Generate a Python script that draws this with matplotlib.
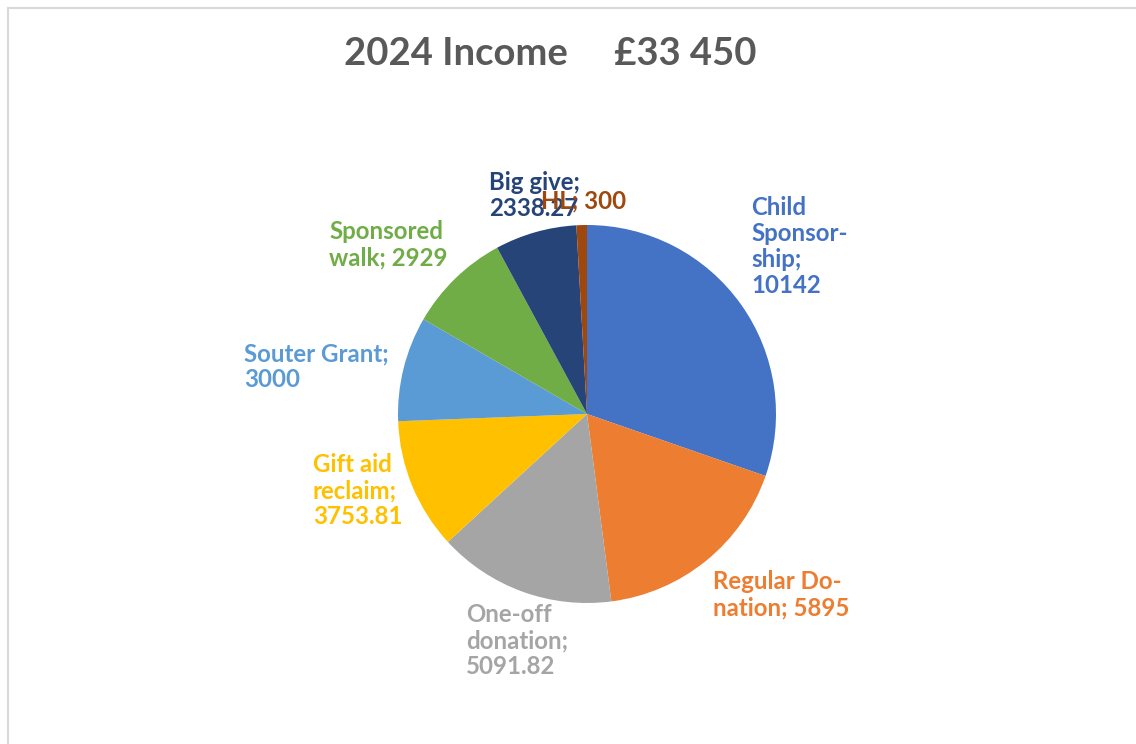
import matplotlib
matplotlib.use("Agg")
import matplotlib.pyplot as plt
from matplotlib.patches import Rectangle

plt.rcParams['font.family'] = ['Lato', 'DejaVu Sans']

categories = ["Child Sponsorship", "Regular Donation", "One-off donation", "Gift aid reclaim",
              "Souter Grant", "Sponsored walk", "Big give", "HL"]
values = [10142, 5895, 5091.82, 3753.81, 3000, 2929, 2338.27, 300]
label_texts = ["Child\nSponsor-\nship;\n10142", "Regular Do-\nnation; 5895",
               "One-off\ndonation;\n5091.82", "Gift aid\nreclaim;\n3753.81",
               "Souter Grant;\n3000", "Sponsored\nwalk; 2929", "Big give;\n2338.27", "HL; 300"]
colors = ["#4472C4", "#ED7D31", "#A5A5A5", "#FFC000", "#5B9BD5", "#70AD47", "#264478", "#9E480E"]
title = "2024 Income     £33 450"

W, H = 1136, 744
fig = plt.figure(figsize=(W / 100, H / 100), dpi=100)
fig.patch.set_facecolor("white")

# chart border (extends beyond right/bottom edge)
fig.add_artist(Rectangle((8 / W, -0.05), 1.2, (H - 8) / H + 0.05, transform=fig.transFigure,
                         fill=False, edgecolor="#D9D9D9", linewidth=1.5))

cx, cy, r = 587, 414, 189
ax = fig.add_axes([(cx - r) / W, (H - cy - r) / H, 2 * r / W, 2 * r / H])
ax.pie(values, colors=colors, startangle=90, counterclock=False, radius=1,
       wedgeprops=dict(linewidth=0))
ax.set_xlim(-1, 1)
ax.set_ylim(-1, 1)
ax.set_aspect('auto')
ax.axis('off')

# label anchor positions (pixels: left, top)
label_pos = [(751, 196), (713, 570), (466, 603), (313, 453), (244, 342), (329, 220), (489, 171), (541, 189)]
for txt, col, (lx, ly) in zip(label_texts, colors, label_pos):
    fig.text(lx / W, 1 - ly / H, txt, color=col, fontsize=17.3, fontweight='bold',
             ha='left', va='top', linespacing=1.16)

fig.text(550 / W, 1 - 54 / H, title, color="#595959", fontsize=27.5, fontweight='bold',
         ha='center', va='center')

fig.savefig("out.png", dpi=100, facecolor="white")
